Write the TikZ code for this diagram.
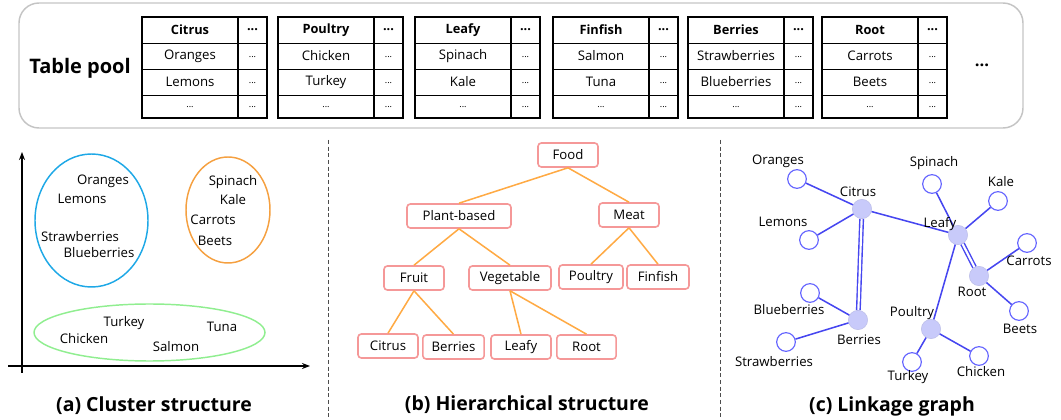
\documentclass[tikz,border=0pt]{standalone}
\usepackage{fontspec}
\setmainfont{Open Sans}
\usetikzlibrary{arrows.meta}
\definecolor{pinkbox}{HTML}{F59898}
\definecolor{orangeedge}{HTML}{FFAA44}
\definecolor{cblue}{HTML}{1EA8E6}
\definecolor{corange}{HTML}{F5A040}
\definecolor{cgreen}{HTML}{90EE90}
\definecolor{linkblue}{HTML}{4646F0}
\definecolor{leafblue}{HTML}{6464FF}
\definecolor{hubfill}{HTML}{C8CAFA}
\definecolor{framegray}{HTML}{C4C4C4}
\newcommand\foodtab[5]{%
\begin{scope}[shift={(#1,0)}]
\draw[line width=0.7pt] (0,43)--(125,43) (0,69)--(125,69) (0,95)--(125,95);
\draw[line width=0.9pt] (96,17)--(96,118);
\draw[line width=1.5pt] (0,17) rectangle (125,118);
\node[lbl,font=\fontsize{9.6}{11}\selectfont\bfseries] (#2h) at (48,30) {#3};
\node[lbl,font=\fontsize{9.6}{11}\selectfont\bfseries] (#2hd) at (110.5,30) {...};
\node[lbl] (#2a) at (48,56) {#4};
\node[dots] (#2ad) at (110.5,57) {...};
\node[lbl] (#2b) at (48,82) {#5};
\node[dots] (#2bd) at (110.5,83) {...};
\node[dots] (#2c) at (48,107) {...};
\node[dots] (#2cd) at (110.5,107) {...};
\end{scope}}
\begin{document}
\begin{tikzpicture}[x=0.75pt,y=-0.75pt,
  lbl/.style={inner sep=0pt,font=\fontsize{9.9}{11}\selectfont},
  dots/.style={inner sep=0pt,font=\fontsize{6.8}{8}\selectfont},
  ttl/.style={inner sep=0pt,font=\fontsize{14.6}{17}\selectfont\bfseries},
  tbox/.style={draw=pinkbox,line width=1.2pt,rounded corners=2.5pt,fill=white,
     minimum height=18pt,inner sep=0pt,font=\fontsize{9.9}{11}\selectfont},
  tedge/.style={draw=orangeedge,line width=1.15pt},
  hub/.style={circle,fill=hubfill,draw=hubfill!85!gray,line width=0.4pt,minimum size=14.5pt,inner sep=0pt},
  leaf/.style={circle,fill=white,draw=leafblue,line width=0.85pt,minimum size=14pt,inner sep=0pt},
  ledge/.style={draw=linkblue,line width=1.15pt},
  dedge/.style={draw=linkblue,line width=1.05pt,double=white,double distance=1.6pt},
  sep/.style={draw=black!70,line width=0.6pt,dash pattern=on 3pt off 2pt}]
\useasboundingbox (0,0) rectangle (1061,420);
% table pool
\draw[framegray,line width=1.1pt,rounded corners=15pt] (19,3) rectangle (1023,128);
\node[inner sep=0pt,font=\fontsize{15}{17}\selectfont\bfseries] (tp) at (80,68) {Table pool};
\foodtab{142}{t1}{Citrus}{Oranges}{Lemons}
\foodtab{278}{t2}{Poultry}{Chicken}{Turkey}
\foodtab{415}{t3}{Leafy}{Spinach}{Kale}
\foodtab{553}{t4}{Finfish}{Salmon}{Tuna}
\foodtab{688}{t5}{Berries}{Strawberries}{Blueberries}
\foodtab{822}{t6}{Root}{Carrots}{Beets}
\node[inner sep=0pt,font=\fontsize{12.5}{14}\selectfont\bfseries] (more) at (982,65) {...};
% separators
\draw[sep] (328,140) -- (328,420);
\draw[sep] (720,140) -- (720,420);
% (a) cluster
\draw[line width=1.1pt,-{Stealth[length=6pt,width=4.5pt]}] (22,373) -- (22,152);
\draw[line width=1.1pt,-{Stealth[length=6pt,width=4.5pt]}] (8,366) -- (310,366);
\draw[cblue,line width=1.1pt] (91.5,220.5) ellipse [x radius=56.5, y radius=66.5];
\draw[corange,line width=1.1pt] (228,210) ellipse [x radius=42, y radius=53];
\draw[cgreen,line width=1.1pt] (149.5,332.5) ellipse [x radius=115.5, y radius=28.5];
\node[lbl] (a1) at (103,181) {Oranges};
\node[lbl] (a2) at (82,199) {Lemons};
\node[lbl] (a3) at (80,237) {Strawberries};
\node[lbl] (a4) at (99,253) {Blueberries};
\node[lbl] (a5) at (233,182) {Spinach};
\node[lbl] (a6) at (233,200) {Kale};
\node[lbl] (a7) at (213,220) {Carrots};
\node[lbl] (a8) at (215,241) {Beets};
\node[lbl] (a9) at (124,323) {Turkey};
\node[lbl] (a10) at (84,339) {Chicken};
\node[lbl] (a11) at (176,347) {Salmon};
\node[lbl] (a12) at (222,327) {Tuna};
\node[ttl] (ta) at (154,406) {(a) Cluster structure};
% (b) hierarchy
\node[tbox,minimum width=45pt] (food) at (568,155) {Food};
\node[tbox,minimum width=78pt] (plant) at (459,216) {Plant-based};
\node[tbox,minimum width=45pt] (meat) at (629,215) {Meat};
\node[tbox,minimum width=45pt] (fruit) at (414,278) {Fruit};
\node[tbox,minimum width=61.5pt] (veg) at (510,278) {Vegetable};
\node[tbox,minimum width=48pt] (poultry) at (591,277) {Poultry};
\node[tbox,minimum width=46.5pt] (finfish) at (658,277) {Finfish};
\node[tbox,minimum width=45pt] (citrus) at (388,346) {Citrus};
\node[tbox,minimum width=46pt] (berries) at (453.5,347) {Berries};
\node[tbox,minimum width=45pt] (leafy) at (521,347) {Leafy};
\node[tbox,minimum width=44.5pt] (root) at (586.5,347) {Root};
\draw[tedge] (food.south) -- (plant.north);
\draw[tedge] (food.south) -- (meat.north);
\draw[tedge] (plant.south) -- (fruit.north);
\draw[tedge] (plant.south) -- (veg.north);
\draw[tedge] (meat.south) -- (poultry.north);
\draw[tedge] (meat.south) -- (finfish.north);
\draw[tedge] (fruit.south) -- (citrus.north);
\draw[tedge] (fruit.south) -- (berries.north);
\draw[tedge] (veg.south) -- (leafy.north);
\draw[tedge] (veg.south) -- (root.north);
\node[ttl] (tb) at (527,405) {(b) Hierarchical structure};
% (c) linkage graph
\node[hub] (hcitrus) at (862,209) {};
\node[hub] (hleafy) at (958,235) {};
\node[hub] (hroot) at (979,276) {};
\node[hub] (hberries) at (858,320) {};
\node[hub] (hpoultry) at (931,329) {};
\node[leaf] (lor) at (797,179) {};
\node[leaf] (lle) at (809,240) {};
\node[leaf] (lsp) at (932,184) {};
\node[leaf] (lka) at (998,201) {};
\node[leaf] (lca) at (1027,243) {};
\node[leaf] (lbe) at (1019,311) {};
\node[leaf] (lbl) at (810,293) {};
\node[leaf] (lst) at (786,342) {};
\node[leaf] (ltu) at (912,362) {};
\node[leaf] (lch) at (979,356) {};
\draw[ledge] (lor) -- (hcitrus);
\draw[ledge] (lle) -- (hcitrus);
\draw[ledge] (hcitrus) -- (hleafy);
\draw[dedge] (hcitrus) -- (hberries);
\draw[ledge] (lsp) -- (hleafy);
\draw[ledge] (lka) -- (hleafy);
\draw[dedge] (hleafy) -- (hroot);
\draw[ledge] (hleafy) -- (hpoultry);
\draw[ledge] (lca) -- (hroot);
\draw[ledge] (lbe) -- (hroot);
\draw[ledge] (lbl) -- (hberries);
\draw[ledge] (lst) -- (hberries);
\draw[ledge] (ltu) -- (hpoultry);
\draw[ledge] (lch) -- (hpoultry);
\node[lbl] (c1) at (778,161) {Oranges};
\node[lbl] (c2) at (858,192) {Citrus};
\node[lbl] (c3) at (783,222) {Lemons};
\node[lbl] (c4) at (934,163) {Spinach};
\node[lbl] (c5) at (1001,182) {Kale};
\node[lbl] (c6) at (940,224) {Leafy};
\node[lbl] (c7) at (1029,261) {Carrots};
\node[lbl] (c8) at (972,292) {Root};
\node[lbl] (c9) at (1020,329) {Beets};
\node[lbl] (c10) at (789,310) {Blueberries};
\node[lbl] (c11) at (859,340) {Berries};
\node[lbl] (c12) at (774,362) {Strawberries};
\node[lbl] (c13) at (912,313) {Poultry};
\node[lbl] (c14) at (908,377) {Turkey};
\node[lbl] (c15) at (981,372) {Chicken};
\node[ttl] (tc) at (892,406) {(c) Linkage graph};
\end{tikzpicture}
\end{document}
